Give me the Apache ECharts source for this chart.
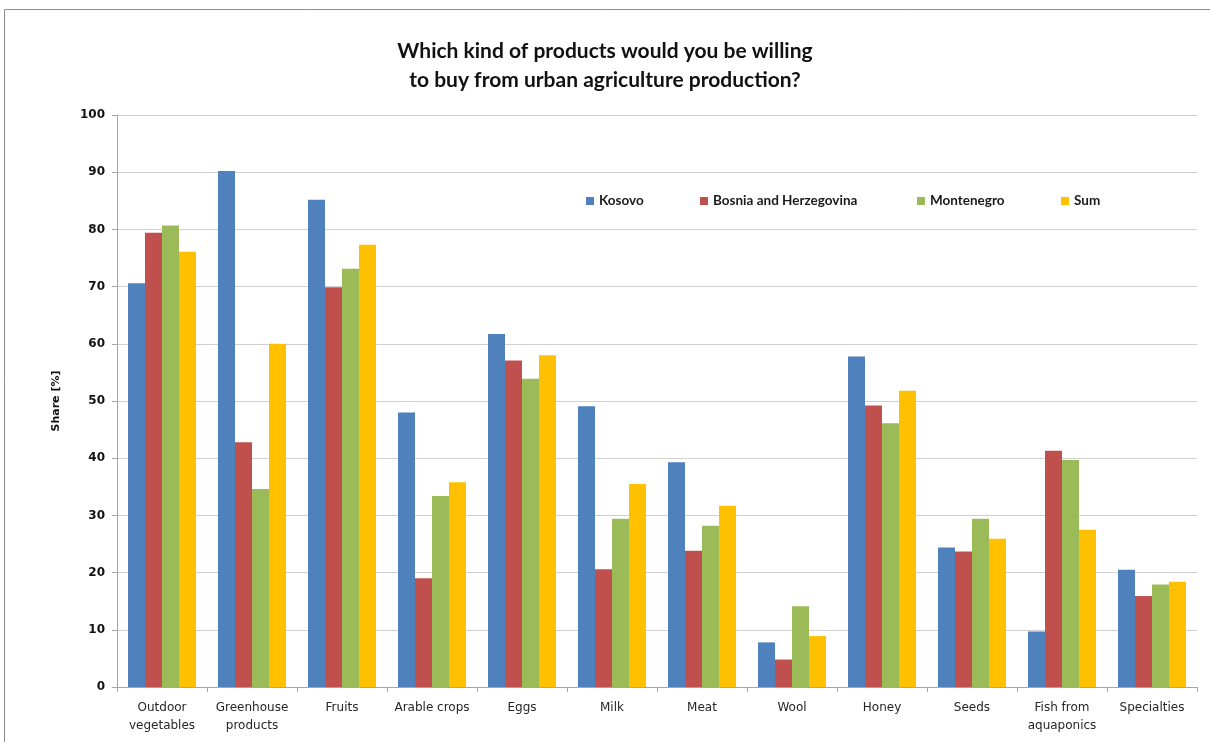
<!DOCTYPE html>
<html>
<head>
<meta charset="utf-8">
<script src="https://cdn.jsdelivr.net/npm/echarts@6/dist/echarts.min.js"></script>
<style>
html,body{margin:0;padding:0;background:#fff;}
#c{width:1210px;height:742px;}
</style>
</head>
<body>
<div id="c"></div>
<script>
const categories = ["Outdoor\nvegetables","Greenhouse\nproducts","Fruits","Arable crops","Eggs","Milk","Meat","Wool","Honey","Seeds","Fish from\naquaponics","Specialties"];
const kosovo     = [70.6, 90.2, 85.2, 48.0, 61.7, 49.1, 39.3, 7.8, 57.8, 24.4, 9.7, 20.5];
const bosnia     = [79.4, 42.8, 69.9, 19.0, 57.1, 20.6, 23.8, 4.8, 49.2, 23.7, 41.3, 15.9];
const montenegro = [80.7, 34.6, 73.1, 33.4, 53.9, 29.4, 28.2, 14.1, 46.1, 29.4, 39.7, 17.9];
const sum        = [76.1, 60.0, 77.3, 35.8, 58.0, 35.5, 31.7, 8.9, 51.8, 25.9, 27.5, 18.4];
const seriesNames = ["Kosovo","Bosnia and Herzegovina","Montenegro","Sum"];
const seriesData = [kosovo, bosnia, montenegro, sum];
const colors = ["#4F81BD","#C0504D","#9BBB59","#FFC000"];

const chart = echarts.init(document.getElementById('c'));
const legendLeft = [581, 695, 912, 1056];
const legendFont = {fontFamily:'Lato,"Open Sans",sans-serif', fontWeight:'bold', fontSize:13.5, color:'#1a1a1a'};

chart.setOption({
  animation:false,
  backgroundColor:'#fff',
  color: colors,
  title:{
    text:'Which kind of products would you be willing\nto buy from urban agriculture production?',
    left:'center', top:32,
    textStyle:{fontFamily:'Lato,"Open Sans",sans-serif', fontWeight:'bold', fontSize:21, lineHeight:29, color:'#111'}
  },
  legend: seriesNames.map((n,i)=>({
    data:[n], left:legendLeft[i], top:189, itemWidth:8, itemHeight:8, icon:'rect',
    textStyle:legendFont, itemGap:5
  })),
  grid:{left:117, right:13, top:115, bottom:55, containLabel:false},
  xAxis:{
    type:'category', data:categories,
    axisLine:{lineStyle:{color:'#A6A6A6'}},
    axisTick:{show:true, alignWithLabel:false, length:5, lineStyle:{color:'#A6A6A6'}},
    axisLabel:{fontFamily:'"DejaVu Sans",sans-serif', fontSize:12, color:'#262626', margin:12, lineHeight:18, interval:0}
  },
  yAxis:{
    type:'value', min:0, max:100, interval:10,
    name:'Share [%]', nameLocation:'middle', nameGap:55, nameRotate:90,
    nameTextStyle:{fontFamily:'"DejaVu Sans",sans-serif', fontWeight:'bold', fontSize:11, color:'#111'},
    axisLine:{show:true, lineStyle:{color:'#A6A6A6'}},
    axisTick:{show:true, length:5, lineStyle:{color:'#A6A6A6'}},
    axisLabel:{fontFamily:'"DejaVu Sans",sans-serif', fontWeight:'bold', fontSize:12, color:'#111', margin:12},
    splitLine:{lineStyle:{color:'#D0D0D0', width:1}}
  },
  series: seriesNames.map((n,i)=>({
    name:n, type:'bar', data:seriesData[i], barWidth:17, barGap:'0%',
    itemStyle:{color:colors[i]}
  })),
  graphic:[{
    type:'rect', shape:{x:4.5, y:9.5, width:1220, height:740},
    style:{fill:'none', stroke:'#8C8C8C', lineWidth:1}, silent:true
  }]
});
</script>
</body>
</html>
